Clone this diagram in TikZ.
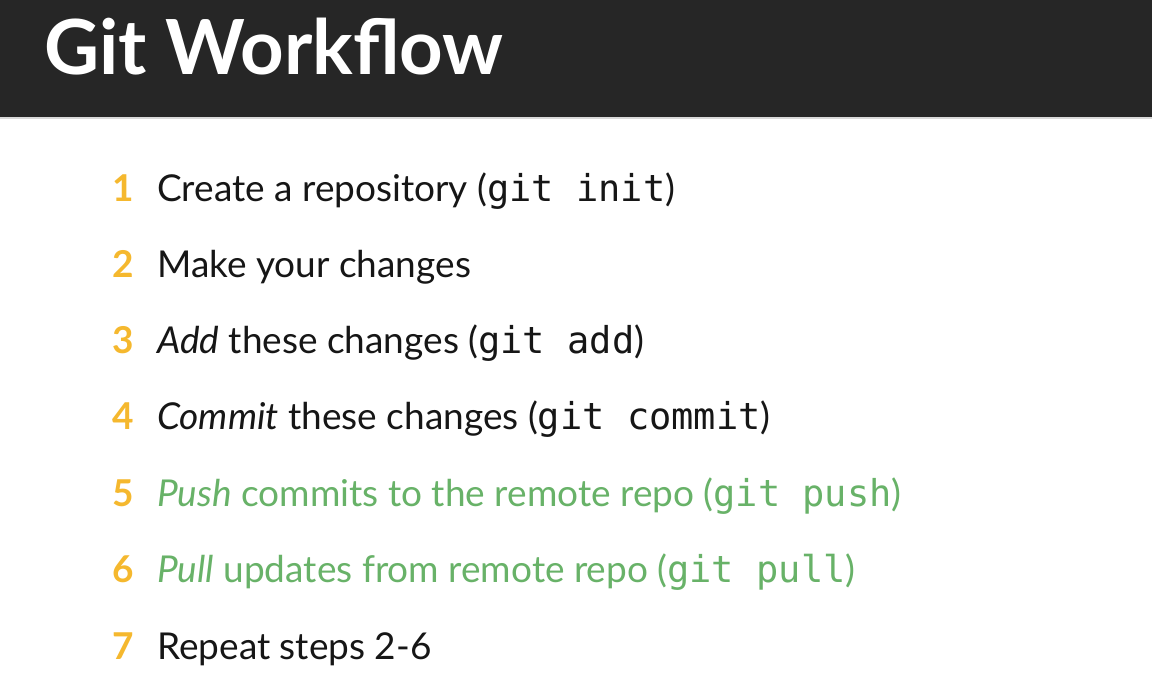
\documentclass[tikz,border=0pt]{standalone}
\usepackage{fontspec}
\setmainfont{Lato}
\setmonofont{DejaVu Sans Mono}
\usepackage{tikz}
\usetikzlibrary{positioning}
\definecolor{header}{HTML}{262626}
\definecolor{stepnum}{HTML}{F5B82E}
\definecolor{remote}{HTML}{68B268}
\definecolor{textcol}{HTML}{161616}

\tikzset{
  itemfont/.style={font=\fontsize{37}{44}\selectfont},
  num/.style={itemfont, font=\fontsize{37}{44}\selectfont\bfseries, text=stepnum, anchor=base, inner sep=0pt},
  entry/.style={itemfont, text=textcol, anchor=base west, inner sep=0pt},
}

\begin{document}
\begin{tikzpicture}[x=1pt,y=-1pt]
      \useasboundingbox (0,0) rectangle (1152,694);

      % Draw the page and the header bar
      \fill[white] (0,0) rectangle (1152,694);
      \fill[header] (0,0) rectangle (1152,117);
      \draw[black!15, line width=1.5pt] (0,118) -- (1152,118);

      % Add the title
      \node[anchor=base west, inner sep=0pt, text=white, font=\fontsize{76}{84}\selectfont\bfseries] (title) at (44,74) {Git Workflow};

      % Mark the step numbers
      \node[num] (n1) at (123,201) {1};
      \node[num] (n2) at (123,277) {2};
      \node[num] (n3) at (123,353) {3};
      \node[num] (n4) at (123,429) {4};
      \node[num] (n5) at (123,506) {5};
      \node[num] (n6) at (123,582) {6};
      \node[num] (n7) at (123,659) {7};

      % Add the steps
      \node[entry] (s1) at (157,201) {Create a repository (\texttt{git init})};
      \node[entry] (s2) at (157,277) {Make your changes};
      \node[entry] (s3) at (157,353) {\textit{Add} these changes (\texttt{git add})};
      \node[entry] (s4) at (157,429) {\textit{Commit} these changes (\texttt{git commit})};
      \node[entry, text=remote] (s5) at (157,506) {\textit{Push} commits to the remote repo (\texttt{git push})};
      \node[entry, text=remote] (s6) at (157,582) {\textit{Pull} updates from remote repo (\texttt{git pull})};
      \node[entry] (s7) at (157,659) {Repeat steps 2-6};
    \end{tikzpicture}
\end{document}
